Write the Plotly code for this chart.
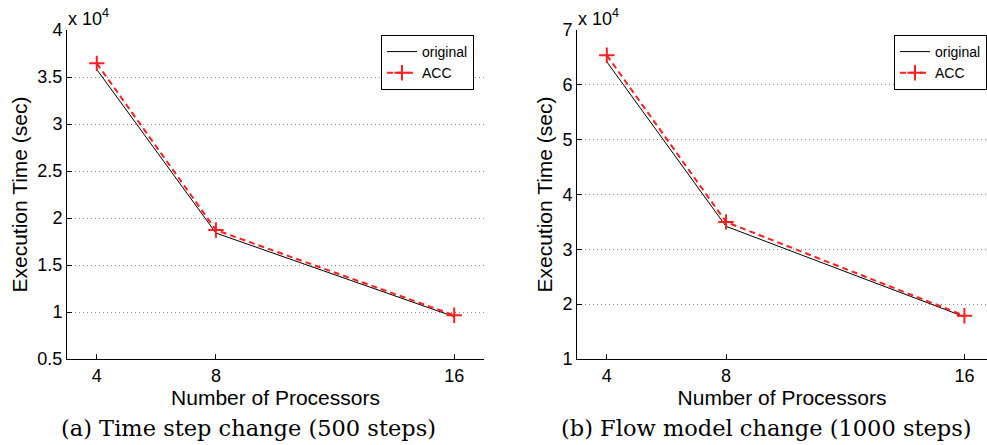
import plotly.graph_objects as go

# ---- data ----
processors = [4, 8, 16]
a_original = [35800, 18400, 9500]
a_acc = [36450, 18720, 9650]
b_original = [64200, 34200, 17700]
b_acc = [65400, 35000, 17900]

x_ticks = [4, 8, 16]
x_ticktext = ["4", "8", "16"]
a_yticks = [5000, 10000, 15000, 20000, 25000, 30000, 35000, 40000]
a_yticktext = ["0.5", "1", "1.5", "2", "2.5", "3", "3.5", "4"]
b_yticks = [10000, 20000, 30000, 40000, 50000, 60000, 70000]
b_yticktext = ["1", "2", "3", "4", "5", "6", "7"]

series_names = ["original", "ACC"]
captions = ["(a) Time step change (500 steps)", "(b) Flow model change (1000 steps)"]
x_title = "Number of Processors"
y_title = "Execution Time (sec)"

W, H = 987, 445
SANS = "Liberation Sans, Arial, Helvetica, sans-serif"
SERIF = "DejaVu Serif, serif"
RED = "#ff1f1f"

fig = go.Figure()

def add_series(xaxis, yaxis, orig, acc, legend):
    fig.add_trace(go.Scatter(
        x=processors, y=orig, name=series_names[0], mode="lines",
        line=dict(color="black", width=1), xaxis=xaxis, yaxis=yaxis, legend=legend))
    fig.add_trace(go.Scatter(
        x=processors, y=acc, name=series_names[1], mode="lines+markers",
        line=dict(color=RED, width=2, dash="6px,4px"),
        marker=dict(symbol="cross-thin", size=11, line=dict(color=RED, width=2)),
        xaxis=xaxis, yaxis=yaxis, legend=legend))

add_series("x", "y", a_original, a_acc, "legend")
add_series("x2", "y2", b_original, b_acc, "legend2")

ydom = [(H - 359) / H, (H - 30) / H]

common_x = dict(
    tickvals=x_ticks, ticktext=x_ticktext, showgrid=False, zeroline=False, automargin=False,
    showline=True, linecolor="black", linewidth=1, ticks="inside", ticklen=5,
    tickcolor="black", tickfont=dict(family=SANS, size=18, color="black"),
    title=dict(text=x_title, font=dict(family=SANS, size=21, color="black"), standoff=5),
)
common_y = dict(
    showgrid=True, gridcolor="#8a8a8a", griddash="1px,3px", gridwidth=1, zeroline=False,
    automargin=False,
    showline=True, linecolor="black", linewidth=1, ticks="inside", ticklen=5,
    tickcolor="black", tickfont=dict(family=SANS, size=18, color="black"),
    title=dict(text=y_title, font=dict(family=SANS, size=21, color="black"), standoff=4),
)

fig.update_layout(
    template="none",
    width=W, height=H, margin=dict(l=0, r=0, t=0, b=0, autoexpand=False),
    paper_bgcolor="white", plot_bgcolor="white",
    xaxis=dict(domain=[67 / W, 484 / W], range=[3, 17], anchor="y", **common_x),
    yaxis=dict(domain=ydom, range=[5000, 40000], tickvals=a_yticks, ticktext=a_yticktext,
               anchor="x", **common_y),
    xaxis2=dict(domain=[577 / W, 1.0], range=[3, 3 + (987 - 577) / 29.8], anchor="y2", **common_x),
    yaxis2=dict(domain=ydom, range=[10000, 70000], tickvals=b_yticks, ticktext=b_yticktext,
                anchor="x2", **common_y),
    legend=dict(x=381 / W, y=(H - 35) / H, xanchor="left", yanchor="top",
                bgcolor="white", bordercolor="black", borderwidth=1,
                font=dict(family=SANS, size=14, color="black"), tracegroupgap=0),
    legend2=dict(x=1.0, y=(H - 35) / H, xanchor="right", yanchor="top",
                 bgcolor="white", bordercolor="black", borderwidth=1,
                 font=dict(family=SANS, size=14, color="black"), tracegroupgap=0),
    showlegend=True,
)

# multiplier labels
for xpos in [66 / W, 576 / W]:
    fig.add_annotation(text="x 10<sup>4</sup>", xref="paper", yref="paper",
                       x=xpos, y=(H - 31) / H, xanchor="left", yanchor="bottom",
                       showarrow=False, font=dict(family=SANS, size=18, color="black"))

# captions
for xc, cap in zip([248 / W, 766 / W], captions):
    fig.add_annotation(text=cap, xref="paper", yref="paper", x=xc, y=(H - 428) / H,
                       xanchor="center", yanchor="middle", showarrow=False,
                       font=dict(family=SERIF, size=22.5, color="black"))

fig.write_html("out.html")
